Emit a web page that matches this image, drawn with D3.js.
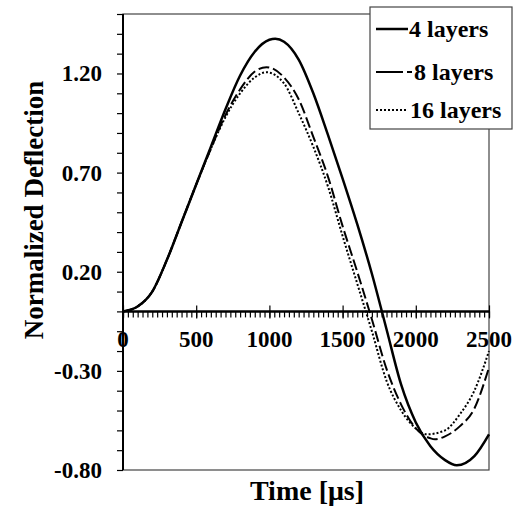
<!DOCTYPE html>
<html>
<head>
<meta charset="utf-8">
<script src="https://cdn.jsdelivr.net/npm/d3@7"></script>
<style>
  body { margin: 0; background: #fff; }
  text { font-family: "Liberation Serif", "Times New Roman", serif; font-weight: bold; fill: #000; }
</style>
</head>
<body>
<div id="chart"></div>
<script>
// values (time in microseconds, normalized deflection)
var time4 = [0, 100, 200, 300, 400, 500, 600, 700, 800, 900, 1000, 1040, 1100, 1200, 1300, 1400, 1500, 1600, 1700, 1800, 1900, 2000, 2100, 2200, 2280, 2400, 2500];
var defl4 = [0, 0.025, 0.10, 0.26, 0.45, 0.64, 0.83, 1.02, 1.19, 1.31, 1.37, 1.375, 1.36, 1.27, 1.10, 0.89, 0.67, 0.44, 0.19, -0.09, -0.37, -0.56, -0.68, -0.75, -0.776, -0.73, -0.62];

var time8 = [0, 100, 200, 300, 400, 500, 600, 700, 800, 900, 980, 1100, 1200, 1300, 1400, 1500, 1600, 1700, 1800, 1900, 2000, 2100, 2130, 2200, 2300, 2400, 2500];
var defl8 = [0, 0.025, 0.10, 0.26, 0.45, 0.64, 0.82, 0.99, 1.12, 1.21, 1.232, 1.18, 1.07, 0.88, 0.68, 0.43, 0.20, -0.04, -0.29, -0.47, -0.59, -0.64, -0.645, -0.63, -0.58, -0.49, -0.283];

var time16 = [0, 100, 200, 300, 400, 500, 600, 700, 800, 900, 980, 1100, 1200, 1300, 1400, 1500, 1600, 1700, 1800, 1900, 2000, 2075, 2200, 2300, 2400, 2500];
var defl16 = [0, 0.025, 0.10, 0.26, 0.45, 0.64, 0.82, 0.98, 1.10, 1.18, 1.206, 1.15, 1.00, 0.83, 0.63, 0.38, 0.14, -0.10, -0.35, -0.50, -0.59, -0.62, -0.60, -0.52, -0.40, -0.20];

var seriesNames = ["4 layers", "8 layers", "16 layers"];
var xTickVals = [0, 500, 1000, 1500, 2000, 2500];
var yTickVals = [1.20, 0.70, 0.20, -0.30, -0.80];

var svgW = 521, svgH = 514;
var plotL = 123, plotR = 489, plotT = 14, plotB = 470;

var svg = d3.select("#chart")
    .append("svg")
    .attr("width", svgW)
    .attr("height", svgH);

var x = d3.scaleLinear().domain([0, 2500]).range([plotL, plotR]);
var y = d3.scaleLinear().domain([-0.8, 1.5]).range([plotB, plotT]);

// plot frame
svg.append("rect")
    .attr("x", plotL)
    .attr("y", plotT)
    .attr("width", plotR - plotL)
    .attr("height", plotB - plotT)
    .attr("fill", "none")
    .attr("stroke", "#444")
    .attr("stroke-width", 1.2);

// y axis, a tick every 0.1
var yAxis = d3.axisLeft(y)
    .tickValues(d3.range(-8, 16).map(function(d) { return d / 10; }))
    .tickSize(6)
    .tickFormat("");
svg.append("g")
    .attr("transform", "translate(" + plotL + ",0)")
    .call(yAxis)
    .call(function(g) {
        g.select(".domain").attr("stroke-width", 2).attr("d", "M0," + plotT + "V" + plotB);
        g.selectAll(".tick line").attr("stroke-width", 1.2);
    });

svg.append("g")
    .selectAll("text")
    .data(yTickVals)
    .enter()
    .append("text")
    .attr("x", plotL - 21)
    .attr("y", function(d) { return y(d) + 8; })
    .attr("text-anchor", "end")
    .style("font-size", "23px")
    .text(function(d) { return d.toFixed(2); });

// x axis crossing at zero
var minorX = d3.range(0, 2501, 500 / 15);
var xMinor = d3.axisBottom(x)
    .tickValues(minorX)
    .tickSize(6)
    .tickFormat("");
svg.append("g")
    .attr("transform", "translate(0," + y(0) + ")")
    .call(xMinor)
    .call(function(g) {
        g.select(".domain").attr("stroke-width", 2.5).attr("d", "M" + plotL + ",0H" + plotR);
        g.selectAll(".tick line").attr("stroke-width", 1.2);
    });

var xMajor = d3.axisBottom(x)
    .tickValues(xTickVals)
    .tickSize(13)
    .tickFormat("");
svg.append("g")
    .attr("transform", "translate(0," + (y(0) - 6) + ")")
    .call(xMajor)
    .call(function(g) {
        g.select(".domain").remove();
        g.selectAll(".tick line").attr("stroke-width", 1.2);
    });

svg.append("g")
    .selectAll("text")
    .data(xTickVals)
    .enter()
    .append("text")
    .attr("x", function(d) { return x(d); })
    .attr("y", 347)
    .attr("text-anchor", "middle")
    .style("font-size", "23px")
    .text(function(d) { return d; });

// curves
var line = d3.line()
    .x(function(d) { return x(d[0]); })
    .y(function(d) { return y(d[1]); })
    .curve(d3.curveMonotoneX);

var series = [
    d3.zip(time4, defl4),
    d3.zip(time8, defl8),
    d3.zip(time16, defl16)
];
var dashes = [null, "11,4", "2,2"];
var widths = [2.5, 2, 2];

svg.append("g")
    .selectAll("path")
    .data(series)
    .enter()
    .append("path")
    .attr("d", line)
    .attr("fill", "none")
    .attr("stroke", "#000")
    .attr("stroke-width", function(d, i) { return widths[i]; })
    .attr("stroke-dasharray", function(d, i) { return dashes[i]; });

// legend
var legend = svg.append("g");
legend.append("rect")
    .attr("x", 370)
    .attr("y", 7)
    .attr("width", 142)
    .attr("height", 122)
    .attr("fill", "#fff")
    .attr("stroke", "#444")
    .attr("stroke-width", 1.2);

var legendY = [29, 72, 110];
var legendDash = [null, "27,4", "2,2"];
var legendEnd = [408, 412, 407];
var legendTextX = [409, 414, 410];

seriesNames.forEach(function(name, i) {
    legend.append("line")
        .attr("x1", 376)
        .attr("x2", legendEnd[i])
        .attr("y1", legendY[i])
        .attr("y2", legendY[i])
        .attr("stroke", "#000")
        .attr("stroke-width", i == 0 ? 2.5 : 2)
        .attr("stroke-dasharray", legendDash[i]);
    legend.append("text")
        .attr("x", legendTextX[i])
        .attr("y", legendY[i] + 8)
        .style("font-size", "24px")
        .text(name);
});

// axis titles
svg.append("text")
    .attr("transform", "translate(43,210) rotate(-90)")
    .attr("text-anchor", "middle")
    .style("font-size", "27px")
    .text("Normalized Deflection");

svg.append("text")
    .attr("x", 307)
    .attr("y", 500)
    .attr("text-anchor", "middle")
    .style("font-size", "28px")
    .text("Time [\u03bcs]");
</script>
</body>
</html>
